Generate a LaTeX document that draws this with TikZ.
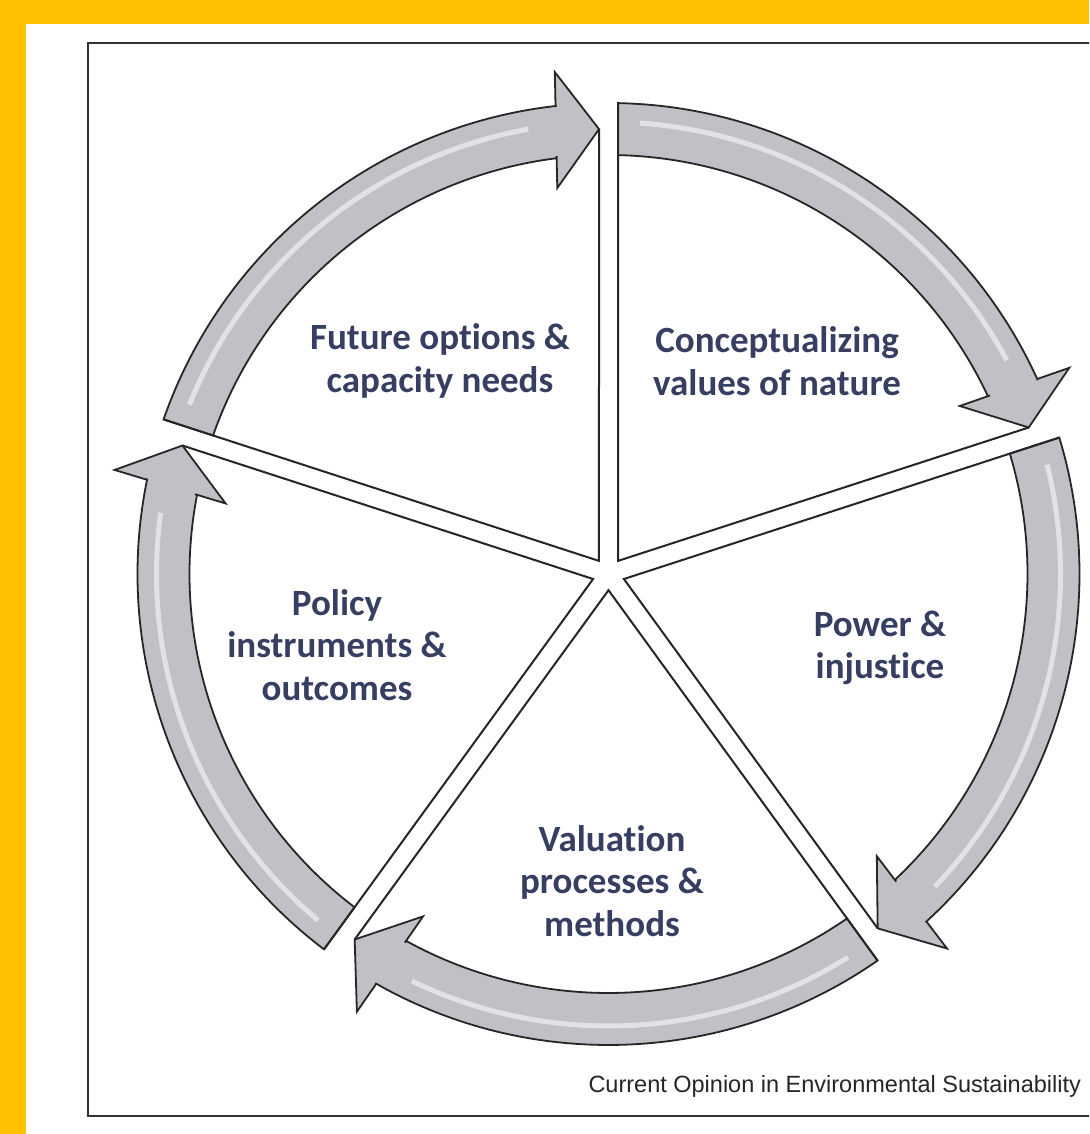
\documentclass[tikz,border=0pt]{standalone}
\usepackage{fontspec}
\usepackage{tikz}
\usetikzlibrary{calc}
\newfontfamily\stagefont[RawFeature={-liga;-clig;-calt;-rlig;-dlig}]{Carlito}
\newfontfamily\notefont{Liberation Sans}
\newcommand\tiletters{t\kern0pt i}
\definecolor{journalyellow}{RGB}{255,193,0}
\definecolor{stageblue}{RGB}{54,63,98}
\definecolor{arrowgray}{RGB}{192,192,198}

\begin{document}
\begin{tikzpicture}[x=1pt, y=1pt,
            stage/.style = {align=center, text=stageblue,
                            font=\stagefont\bfseries\fontsize{37}{42.5}\selectfont},
            ring arrow/.style = {fill=arrowgray, draw=black!85,
                                 line width=1.8pt, line join=miter},
            shine/.style = {white, line width=5pt, opacity=0.55},
            spoke/.style = {draw=black!85, line width=2pt},
            note/.style = {font=\notefont\fontsize{23.5}{28}\selectfont, text=black!85}]
  \clip (-608.5,-560) rectangle (480.5,574);
  \fill[journalyellow] (-608.5,-560) rectangle (480.5,574);
  \fill[white] (-582.5,-560) rectangle (480.5,550);
  \draw[black!80, line width=2pt] (-520.5,-542) rectangle (500,531);

  % five sectors, each with its arrow running clockwise
  \foreach \a in {90,18,-54,-126,162}{
    \pgfmathsetmacro\tipang{\a-72+1.22}
    \filldraw[ring arrow] (\a-1.16:471pt)
        arc[start angle=\a-1.16, end angle=\tipang+5.2, radius=471pt]
        -- ($(\tipang:471pt)+(\tipang+90:43pt)$)
        -- ($(\tipang:503pt)+(\tipang+90:43pt)$)
        -- (\tipang:445pt)
        -- ($(\tipang:387pt)+(\tipang+90:43pt)$)
        -- ($(\tipang:419pt)+(\tipang+90:43pt)$)
        -- (\tipang+5.9:419pt)
        arc[start angle=\tipang+5.9, end angle=\a-1.3, radius=419pt] -- cycle;
    \draw[shine] (\a-4:452pt) arc[start angle=\a-4, end angle=\tipang+9, radius=452pt];
    \coordinate (v\a) at (\a-36:16.2pt);
    \draw[spoke] (\tipang:445pt) -- (v\a) -- (\a-1.16:471pt);
  }

  \node[stage] (future)  at (-168.5,213) {Future op\tiletters ons \&\\capacity needs};
  \node[stage] (concept) at (168.5,213)  {Conceptualizing\\values of nature};
  \node[stage] (power)   at (271.5,-74)  {Power \&\\injus\tiletters ce};
  \node[stage] (valuation) at (3.5,-307) {Valua\tiletters on\\processes \&\\methods};
  \node[stage] (policy)  at (-271.5,-71) {Policy\\instruments \&\\outcomes};

  \node[note, anchor=base east] (source) at (476,-518)
      {Current Opinion in Environmental Sustainability};
\end{tikzpicture}
\end{document}
